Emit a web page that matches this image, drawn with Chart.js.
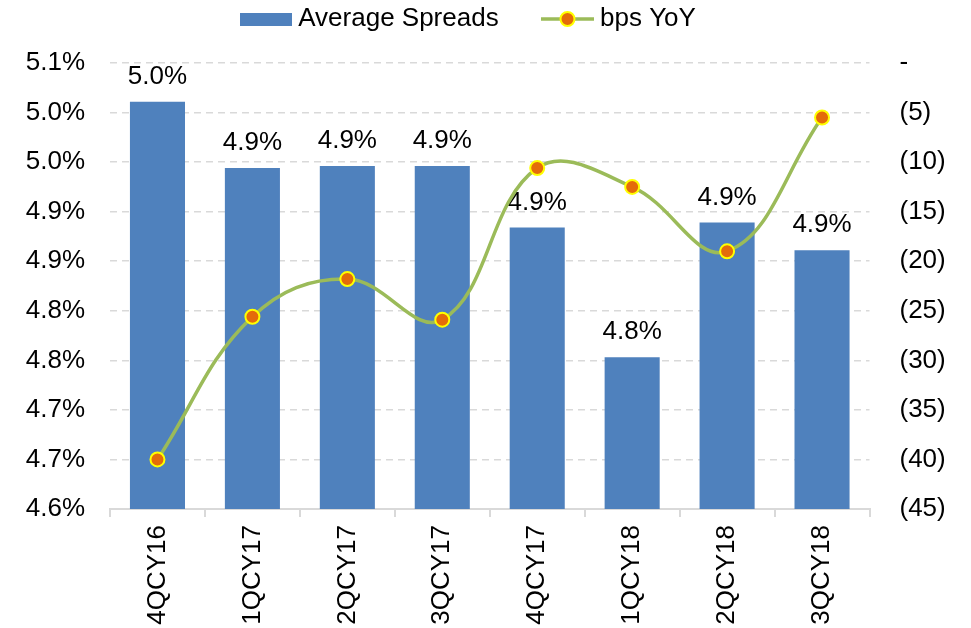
<!DOCTYPE html>
<html>
<head>
<meta charset="utf-8">
<script src="https://cdn.jsdelivr.net/npm/chart.js@4.4.0/dist/chart.umd.min.js"></script>
<style>
  html, body { margin: 0; padding: 0; background: #fff; }
</style>
</head>
<body>
<canvas id="chart" width="971" height="628"></canvas>
<script>
const quarters = ['4QCY16', '1QCY17', '2QCY17', '3QCY17', '4QCY17', '1QCY18', '2QCY18', '3QCY18'];
const avgSpreads = [5.011, 4.944, 4.946, 4.946, 4.884, 4.753, 4.889, 4.861];
const bpsYoY = [-40.0, -25.6, -21.8, -25.9, -10.6, -12.5, -19.0, -5.5];

const leftTickValues = [4.60, 4.65, 4.70, 4.75, 4.80, 4.85, 4.90, 4.95, 5.00, 5.05];
const leftTickLabels = ['4.6%', '4.7%', '4.7%', '4.8%', '4.8%', '4.9%', '4.9%', '5.0%', '5.0%', '5.1%'];
const rightTickValues = [-45, -40, -35, -30, -25, -20, -15, -10, -5, 0];
const rightTickLabels = ['(45)', '(40)', '(35)', '(30)', '(25)', '(20)', '(15)', '(10)', '(5)', '-'];

const barColor = '#4F81BD';
const lineColor = '#9BBB59';
const dotFill = '#E46C0A';
const dotBorder = '#FFFF00';
const gridColor = '#D9D9D9';

Chart.defaults.font.family = '"Liberation Sans", Arial, sans-serif';
Chart.defaults.font.size = 26;
Chart.defaults.color = '#000';

// legend swatches drawn on small canvases
function barSwatch() {
    const c = document.createElement('canvas');
    c.width = 52; c.height = 13;
    const g = c.getContext('2d');
    g.fillStyle = barColor;
    g.fillRect(0, 0, 52, 13);
    return c;
}

function lineSwatch() {
    const c = document.createElement('canvas');
    c.width = 53; c.height = 18;
    const g = c.getContext('2d');
    g.strokeStyle = lineColor;
    g.lineWidth = 3.5;
    g.beginPath();
    g.moveTo(0, 9);
    g.lineTo(53, 9);
    g.stroke();
    g.beginPath();
    g.arc(26.5, 9, 7, 0, Math.PI * 2);
    g.fillStyle = dotFill;
    g.fill();
    g.lineWidth = 2;
    g.strokeStyle = dotBorder;
    g.stroke();
    return c;
}

// value labels above the bars, drawn before the line
const barLabels = {
    id: 'barLabels',
    afterDatasetDraw(chart, args) {
        if (args.index !== 0) return;
        const ctx = chart.ctx;
        ctx.save();
        ctx.font = '26px "Liberation Sans", Arial, sans-serif';
        ctx.fillStyle = '#000';
        ctx.textAlign = 'center';
        ctx.textBaseline = 'alphabetic';
        args.meta.data.forEach((bar, i) => {
            ctx.fillText(avgSpreads[i].toFixed(1) + '%', bar.x, bar.y - 18);
        });
        ctx.restore();
    }
};

const ctx = document.getElementById('chart').getContext('2d');
new Chart(ctx, {
    type: 'bar',
    data: {
        labels: quarters,
        datasets: [
            {
                type: 'bar',
                label: 'Average Spreads',
                data: avgSpreads,
                yAxisID: 'y',
                backgroundColor: barColor,
                barPercentage: 0.58,
                categoryPercentage: 1,
                order: 1
            },
            {
                type: 'line',
                label: 'bps YoY',
                data: bpsYoY,
                yAxisID: 'y1',
                borderColor: lineColor,
                borderWidth: 3.5,
                tension: 0.4,
                pointRadius: 7,
                pointBackgroundColor: dotFill,
                pointBorderColor: dotBorder,
                pointBorderWidth: 2,
                order: 0
            }
        ]
    },
    options: {
        responsive: false,
        animation: false,
        layout: { padding: 0 },
        plugins: {
            tooltip: { enabled: false },
            legend: {
                position: 'top',
                labels: {
                    usePointStyle: true,
                    pointStyleWidth: 39,
                    padding: 6,
                    color: '#000',
                    font: { size: 26 },
                    generateLabels: () => [
                        { text: 'Average Spreads      ', pointStyle: barSwatch(), fillStyle: barColor, strokeStyle: barColor, lineWidth: 0, hidden: false, datasetIndex: 0 },
                        { text: 'bps YoY    ', pointStyle: lineSwatch(), fillStyle: dotFill, strokeStyle: lineColor, lineWidth: 0, hidden: false, datasetIndex: 1 }
                    ]
                }
            },
            // empty spacer between legend and plot area
            subtitle: {
                display: true,
                text: '',
                weight: 500,
                font: { size: 1 },
                padding: { top: 0, bottom: 19.8 }
            }
        },
        scales: {
            x: {
                offset: true,
                z: 1,
                grid: { offset: true, drawOnChartArea: false, drawTicks: true, tickLength: 8, color: gridColor, lineWidth: 2 },
                border: { display: true, color: gridColor, width: 2 },
                ticks: { minRotation: 90, maxRotation: 90, autoSkip: false, padding: 8, color: '#000' },
                afterFit: s => { s.height = 119; }
            },
            y: {
                position: 'left',
                min: 4.6,
                max: 5.05,
                afterBuildTicks: s => { s.ticks = leftTickValues.map(v => ({ value: v })); },
                ticks: { padding: 25, color: '#000', callback: (v, i) => leftTickLabels[i] },
                grid: { color: gridColor, lineWidth: 1.5, drawTicks: false },
                border: { display: false, dash: [7, 5] },
                afterFit: s => { s.width = 110; }
            },
            y1: {
                position: 'right',
                min: -45,
                max: 0,
                afterBuildTicks: s => { s.ticks = rightTickValues.map(v => ({ value: v })); },
                ticks: { padding: 30, color: '#000', callback: (v, i) => rightTickLabels[i] },
                grid: { drawOnChartArea: false, drawTicks: false },
                border: { display: false },
                afterFit: s => { s.width = 101.5; }
            }
        }
    },
    plugins: [barLabels]
});
</script>
</body>
</html>
